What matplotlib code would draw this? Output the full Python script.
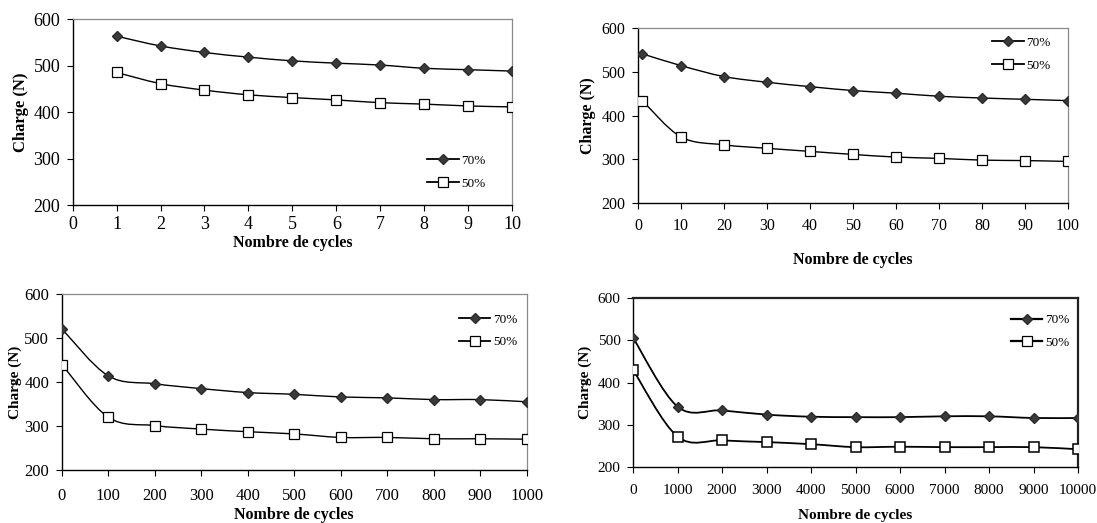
import matplotlib
matplotlib.use('Agg')
import matplotlib.pyplot as plt
from matplotlib.path import Path
from matplotlib.patches import PathPatch
from matplotlib.lines import Line2D

plt.rcParams['font.family'] = ['Liberation Serif', 'DejaVu Serif']

# data
c1_x = [1, 2, 3, 4, 5, 6, 7, 8, 9, 10]
c1_70 = [563, 542, 528, 518, 510, 505, 501, 494, 491, 488]
c1_50 = [485, 461, 447, 437, 431, 426, 420, 417, 413, 411]

c2_x = [1, 10, 20, 30, 40, 50, 60, 70, 80, 90, 100]
c2_70 = [541, 514, 489, 476, 466, 457, 451, 444, 440, 437, 434]
c2_50 = [434, 351, 333, 325, 318, 311, 305, 302, 298, 297, 295]

c3_x = [1, 100, 200, 300, 400, 500, 600, 700, 800, 900, 1000]
c3_70 = [520, 414, 396, 385, 376, 372, 366, 364, 360, 360, 355]
c3_50 = [439, 320, 301, 293, 287, 282, 274, 274, 271, 271, 270]

c4_x = [1, 1000, 2000, 3000, 4000, 5000, 6000, 7000, 8000, 9000, 10000]
c4_70 = [506, 343, 334, 324, 319, 318, 318, 320, 320, 316, 316]
c4_50 = [430, 272, 263, 259, 254, 247, 248, 247, 247, 247, 242]

labels = ['70%', '50%']
y_ticks = [200, 300, 400, 500, 600]

W, H = 1097, 523


def px_axes(fig, x0, x1, y0, y1):
    # pixel box (top-left origin) -> figure fraction
    return fig.add_axes([x0 / W, 1 - y1 / H, (x1 - x0) / W, (y1 - y0) / H])


def smooth(ax, xs, ys, lw):
    # Excel-like smoothed line: cubic Bezier through the points
    pts = list(zip(xs, ys))
    verts = [pts[0]]
    codes = [Path.MOVETO]
    n = len(pts)
    for i in range(n - 1):
        p0 = pts[max(i - 1, 0)]
        p1 = pts[i]
        p2 = pts[i + 1]
        p3 = pts[min(i + 2, n - 1)]
        c1 = (p1[0] + (p2[0] - p0[0]) / 6, p1[1] + (p2[1] - p0[1]) / 6)
        c2 = (p2[0] - (p3[0] - p1[0]) / 6, p2[1] - (p3[1] - p1[1]) / 6)
        verts += [c1, c2, p2]
        codes += [Path.CURVE4] * 3
    ax.add_patch(PathPatch(Path(verts, codes), fill=False, lw=lw,
                           edgecolor='black', zorder=2))


def panel(ax, xs, y70, y50, xticks, xmax, leg_anchor, fs_tick, pad,
          box_dark=False):
    lw = 1.3 if box_dark else 1.0
    smooth(ax, xs, y70, lw)
    smooth(ax, xs, y50, lw)
    ax.plot(xs, y70, ls='none', marker='D', ms=5.5, mfc='#3a3a3a',
            mec='#2a2a2a', zorder=3)
    ax.plot(xs, y50, ls='none', marker='s', ms=6.5, mfc='white',
            mec='black', mew=1.1 if box_dark else 0.9, zorder=3)
    ax.set_xlim(0, xmax)
    ax.set_ylim(200, 600)
    ax.set_xticks(xticks)
    ax.set_yticks(y_ticks)
    ax.tick_params(direction='out', length=4, width=0.8, labelsize=fs_tick)
    ax.tick_params(axis='x', pad=pad)
    ax.tick_params(axis='y', pad=5)
    for s in ['left', 'bottom']:
        ax.spines[s].set_color('black')
        ax.spines[s].set_linewidth(1.0)
    for s in ['top', 'right']:
        ax.spines[s].set_color('#222222' if box_dark else '#8a8a8a')
        ax.spines[s].set_linewidth(1.6 if box_dark else 0.9)
    handles = [
        Line2D([], [], color='black', lw=lw + 0.3, marker='D', ms=5.5,
               mfc='#3a3a3a', mec='#2a2a2a'),
        Line2D([], [], color='black', lw=lw + 0.3, marker='s', ms=6.5,
               mfc='white', mec='black', mew=0.9),
    ]
    ax.legend(handles, labels, loc='upper left', bbox_to_anchor=leg_anchor,
              frameon=False, fontsize=9.5, handlelength=2.4,
              handletextpad=0.2, labelspacing=0.8, borderpad=0,
              borderaxespad=0)


fig = plt.figure(figsize=(W / 100, H / 100), dpi=100)

ax1 = px_axes(fig, 72.7, 512, 19, 205)
panel(ax1, c1_x, c1_70, c1_50, list(range(0, 11)), 10, (0.807, 0.27), 13, 4)
ax1.set_ylabel('Charge (N)', fontsize=12, fontweight='bold', labelpad=3)
ax1.set_xlabel('Nombre de cycles', fontsize=11.5, fontweight='bold',
               labelpad=1)

ax2 = px_axes(fig, 638, 1068, 28, 203)
panel(ax2, c2_x, c2_70, c2_50, list(range(0, 101, 10)), 100,
      (0.823, 0.95), 11.5, 7)
ax2.set_ylabel('Charge (N)', fontsize=11.5, fontweight='bold', labelpad=4)
ax2.set_xlabel('Nombre de cycles', fontsize=11.5, fontweight='bold',
               labelpad=13)

ax3 = px_axes(fig, 61.7, 526.7, 294, 470)
panel(ax3, c3_x, c3_70, c3_50, list(range(0, 1001, 100)), 1000,
      (0.854, 0.89), 12, 9)
ax3.set_ylabel('Charge (N)', fontsize=11, fontweight='bold', labelpad=2)
ax3.set_xlabel('Nombre de cycles', fontsize=11.5, fontweight='bold',
               labelpad=2)

ax4 = px_axes(fig, 633, 1078, 298, 467)
panel(ax4, c4_x, c4_70, c4_50, list(range(0, 10001, 1000)), 10000,
      (0.849, 0.905), 11, 8, box_dark=True)
ax4.set_ylabel('Charge (N)', fontsize=11, fontweight='bold', labelpad=4)
ax4.set_xlabel('Nombre de cycles', fontsize=11, fontweight='bold',
               labelpad=9)

fig.savefig('out.png', dpi=100)
